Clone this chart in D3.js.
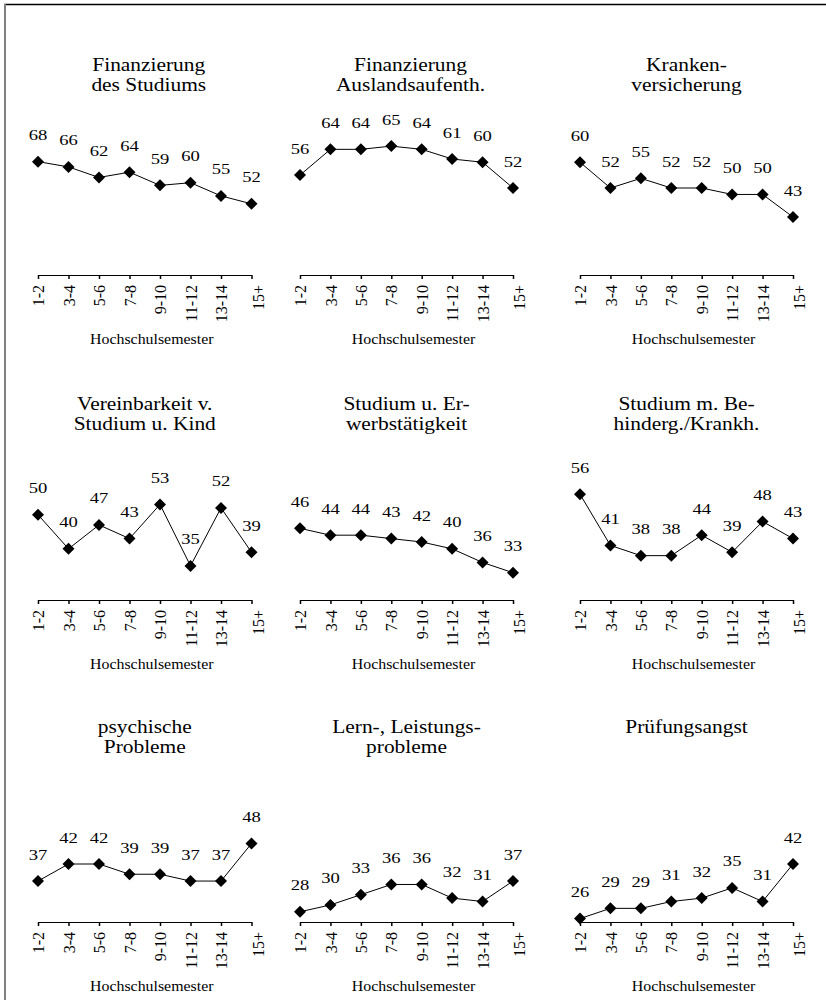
<!DOCTYPE html>
<html>
<head>
<meta charset="utf-8">
<script src="https://cdn.jsdelivr.net/npm/d3@7"></script>
<style>
  html, body { margin: 0; padding: 0; background: #fff; }
  svg { display: block; font-family: "Liberation Serif", "Times New Roman", serif; }
</style>
</head>
<body>
<svg id="chart" width="826" height="1000"></svg>
<script>
// ---- data ----
const categories = ["1-2", "3-4", "5-6", "7-8", "9-10", "11-12", "13-14", "15+"];
const axisTitle = "Hochschulsemester";

const titles = [
  ["Finanzierung", "des Studiums"],
  ["Finanzierung", "Auslandsaufenth."],
  ["Kranken-", "versicherung"],
  ["Vereinbarkeit v.", "Studium u. Kind"],
  ["Studium u. Er-", "werbstätigkeit"],
  ["Studium m. Be-", "hinderg./Krankh."],
  ["psychische", "Probleme"],
  ["Lern-, Leistungs-", "probleme"],
  ["Prüfungsangst"]
];

const finanzStudium   = [68, 66, 62, 64, 59, 60, 55, 52];
const finanzAusland   = [56, 64, 64, 65, 64, 61, 60, 52];
const krankenvers     = [60, 52, 55, 52, 52, 50, 50, 43];
const vereinbarkeit   = [50, 40, 47, 43, 53, 35, 52, 39];
const erwerb          = [46, 44, 44, 43, 42, 40, 36, 33];
const behinderung     = [56, 41, 38, 38, 44, 39, 48, 43];
const psychisch       = [37, 42, 42, 39, 39, 37, 37, 48];
const lernLeistung    = [28, 30, 33, 36, 36, 32, 31, 37];
const pruefungsangst  = [26, 29, 29, 31, 32, 35, 31, 42];

const seriesList = [finanzStudium, finanzAusland, krankenvers,
                    vereinbarkeit, erwerb, behinderung,
                    psychisch, lernLeistung, pruefungsangst];

// y-axis domains (min, max) per panel
const yMin = 25;
const yMaxes = [80, 70, 70, 67.5, 67.5, 67.5, 67.5, 67.5, 67.5];

// ---- layout ----
const colX0 = [38, 300, 580];
const colX1 = [251.5, 513, 793];
const rowAxisY = [275, 600, 922];
const rowTitleY = [71, 410, 733];
const titleDx = [4, 4, 0, 0, 0, 0, 0, 0, 0];
const plotH = 145;

const svg = d3.select("#chart");

// frame lines
svg.append("line").attr("x1", 4).attr("x2", 826).attr("y1", 4.5).attr("y2", 4.5)
  .attr("stroke", "#000").attr("stroke-width", 1.5);
svg.append("line").attr("x1", 5).attr("x2", 5).attr("y1", 4).attr("y2", 1000)
  .attr("stroke", "#808080").attr("stroke-width", 2);

const diamond = d3.symbol().type(d3.symbolSquare).size(72);

seriesList.forEach((vals, i) => {
  const col = i % 3, row = Math.floor(i / 3);
  const axisY = rowAxisY[row];
  const x = d3.scalePoint().domain(categories).range([colX0[col], colX1[col]]);
  const y = d3.scaleLinear().domain([yMin, yMaxes[i]]).range([axisY, axisY - plotH]);
  const g = svg.append("g");

  // title
  const cx = (colX0[col] + colX1[col]) / 2 + titleDx[i];
  titles[i].forEach((t, k) => {
    g.append("text")
      .attr("transform", `translate(${cx},${rowTitleY[row] + k * 20}) scale(1.19,1)`)
      .attr("text-anchor", "middle")
      .attr("font-size", 18)
      .attr("fill", "#000")
      .text(t);
  });

  // x axis
  const ax = g.append("g")
    .attr("transform", `translate(0,${axisY})`)
    .call(d3.axisBottom(x).tickSize(4).tickSizeOuter(0));
  ax.select(".domain").attr("stroke", "#000").attr("stroke-width", 1);
  ax.selectAll(".tick line").attr("stroke", "#000").attr("stroke-width", 1.5);
  ax.selectAll(".tick text")
    .attr("font-family", "Liberation Serif, Times New Roman, serif")
    .attr("font-size", 16)
    .attr("fill", "#000")
    .attr("text-anchor", "end")
    .attr("y", 0).attr("x", 0)
    .attr("dy", "0.35em")
    .attr("transform", d => `translate(${d === "15+" ? 6 : 0},10) rotate(-90)`);

  // axis title
  g.append("text")
    .attr("transform", `translate(${(colX0[col] + colX1[col]) / 2 + 7},${axisY + 69}) scale(1.06,1)`)
    .attr("text-anchor", "middle")
    .attr("font-size", 15)
    .attr("fill", "#000")
    .text(axisTitle);

  // line
  const line = d3.line().x((d, j) => x(categories[j])).y(d => y(d));
  g.append("path").datum(vals)
    .attr("d", line)
    .attr("fill", "none")
    .attr("stroke", "#000")
    .attr("stroke-width", 1);

  // markers
  g.selectAll("path.mk").data(vals).enter().append("path")
    .attr("class", "mk")
    .attr("d", diamond)
    .attr("transform", (d, j) => `translate(${x(categories[j])},${y(d)}) rotate(45)`)
    .attr("fill", "#000");

  // value labels
  g.selectAll("text.val").data(vals).enter().append("text")
    .attr("class", "val")
    .attr("transform", (d, j) => `translate(${x(categories[j])},${y(d) - 21.5}) scale(1.24,1)`)
    .attr("text-anchor", "middle")
    .attr("font-size", 15)
    .attr("fill", "#000")
    .text(d => d);
});
</script>
</body>
</html>
